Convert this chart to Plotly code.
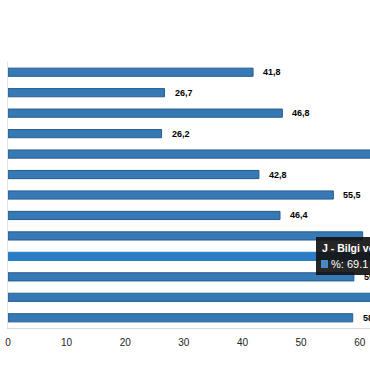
import plotly.graph_objects as go

# Categories top-to-bottom (tick labels hidden in the cropped view)
categories = [
    "S - Diğer hizmet faaliyetleri",
    "R - Kültür, sanat, eğlence",
    "Q - İnsan sağlığı ve sosyal hizmet",
    "P - Eğitim",
    "O - Kamu yönetimi ve savunma",
    "N - İdari ve destek hizmetleri",
    "M - Mesleki, bilimsel ve teknik",
    "L - Gayrimenkul faaliyetleri",
    "K - Finans ve sigorta",
    "J - Bilgi ve İletişim",
    "I - Konaklama ve yiyecek hizmeti",
    "H - Ulaştırma ve depolama",
    "G - Toptan ve perakende ticaret",
]
values = [41.8, 26.7, 46.8, 26.2, 64.5, 42.8, 55.5, 46.4, 60.5, 69.1, 59.0, 66.0, 58.8]
highlight_index = 9
tick_values = [0, 10, 20, 30, 40, 50, 60]

bar_color = "#3679b5"
bar_line = "#245d8f"
hover_color = "#2a7cc4"

colors = [hover_color if i == highlight_index else bar_color for i in range(len(values))]
line_colors = [hover_color if i == highlight_index else bar_line for i in range(len(values))]

def fmt(v):
    return f"{v:.1f}".replace(".", ",")

fig = go.Figure()
fig.add_trace(go.Bar(
    x=values,
    y=categories,
    orientation="h",
    marker=dict(color=colors, line=dict(color=line_colors, width=1)),
    width=0.4,
    hoverinfo="skip",
))

annotations = []
for v, c in zip(values, categories):
    annotations.append(dict(
        x=v, y=c, xref="x", yref="y",
        text=f"<b>{fmt(v)}</b>",
        showarrow=False, xanchor="left", yanchor="middle",
        xshift=8,
        font=dict(family="Arial", size=9, color="#000000"),
    ))

FIG_W, FIG_H = 370, 380
L, R, T, B = 8, 370, 62, 328
def px_x(p):
    return (p - L) / (R - L)
def px_y(p):
    return (B - p) / (B - T)

tip_label = categories[highlight_index]
tip_value = values[highlight_index]

annotations.append(dict(
    x=px_x(320), y=px_y(248), xref="paper", yref="paper",
    text=f"<b>{tip_label}</b>", showarrow=False,
    xanchor="left", yanchor="middle",
    font=dict(family="Arial", size=10.5, color="#ffffff"),
))
annotations.append(dict(
    x=px_x(329), y=px_y(264), xref="paper", yref="paper",
    text=f"%: {tip_value}", showarrow=False,
    xanchor="left", yanchor="middle",
    font=dict(family="Arial", size=11, color="#ffffff"),
))

shapes = [
    dict(type="rect", xref="paper", yref="paper",
         x0=px_x(316), x1=px_x(430), y0=px_y(275), y1=px_y(237),
         fillcolor="rgba(20,20,20,0.92)", line=dict(width=0), layer="above"),
    dict(type="rect", xref="paper", yref="paper",
         x0=px_x(321), x1=px_x(328), y0=px_y(268), y1=px_y(260),
         fillcolor="#4a88c4", line=dict(width=0), layer="above"),
]

fig.update_layout(
    width=FIG_W, height=FIG_H,
    margin=dict(l=L, r=FIG_W - R, t=T, b=FIG_H - B, pad=0),
    paper_bgcolor="#ffffff", plot_bgcolor="#ffffff",
    showlegend=False,
    annotations=annotations,
    shapes=shapes,
    xaxis=dict(
        range=[0, 61.75],
        tickvals=tick_values,
        showgrid=False, zeroline=False,
        showline=True, linecolor="#d9d9d9", linewidth=1,
        ticks="outside", ticklen=5, tickcolor="rgba(0,0,0,0)",
        tickfont=dict(family="Arial", size=10, color="#222222"),
        fixedrange=True,
    ),
    yaxis=dict(
        categoryorder="array",
        categoryarray=list(reversed(categories)),
        showticklabels=False,
        showgrid=False, zeroline=False,
        showline=True, linecolor="#e6e6e6", linewidth=1,
        ticks="",
        fixedrange=True,
    ),
)

fig.write_html(
    "out.html",
    config={"displayModeBar": False},
    post_script="document.body.style.margin='0';document.body.style.overflow='hidden';",
)
